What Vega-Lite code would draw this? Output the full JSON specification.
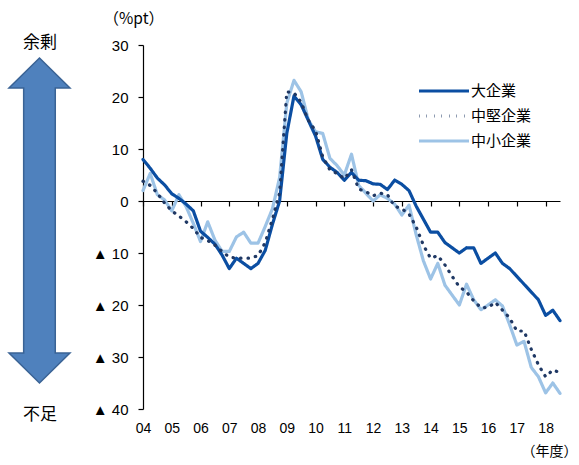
{
  "$schema": "https://vega.github.io/schema/vega-lite/v6.json",
  "width": 417,
  "height": 364,
  "autosize": {"type": "none"},
  "padding": {"left": 143, "top": 45, "right": 19, "bottom": 56},
  "background": "white",
  "config": {
    "view": {"stroke": null},
    "font": "Liberation Sans",
    "axis": {"grid": false, "domainColor": "black", "tickColor": "black", "labelColor": "black", "titleColor": "black"}
  },
  "datasets": {
    "di": [
      {"period": 2004.00, "大企業": 8.0, "中堅企業": 3.8, "中小企業": 2.0},
      {"period": 2004.25, "大企業": 6.3, "中堅企業": 3.0, "中小企業": 5.3},
      {"period": 2004.50, "大企業": 4.4, "中堅企業": 1.5, "中小企業": 1.2},
      {"period": 2004.75, "大企業": 3.1, "中堅企業": -0.4, "中小企業": 0.2},
      {"period": 2005.00, "大企業": 1.4, "中堅企業": -1.9, "中小企業": -1.9},
      {"period": 2005.25, "大企業": 0.5, "中堅企業": -2.9, "中小企業": 1.2},
      {"period": 2005.50, "大企業": -0.6, "中堅企業": -4.0, "中小企業": -1.1},
      {"period": 2005.75, "大企業": -1.9, "中堅企業": -5.3, "中小企業": -4.3},
      {"period": 2006.00, "大企業": -5.8, "中堅企業": -7.0, "中小企業": -7.8},
      {"period": 2006.25, "大企業": -7.0, "中堅企業": -7.6, "中小企業": -4.0},
      {"period": 2006.50, "大企業": -8.3, "中堅企業": -8.5, "中小企業": -7.5},
      {"period": 2006.75, "大企業": -10.4, "中堅企業": -9.7, "中小企業": -9.7},
      {"period": 2007.00, "大企業": -13.0, "中堅企業": -10.8, "中小企業": -9.7},
      {"period": 2007.25, "大企業": -11.0, "中堅企業": -11.0, "中小企業": -6.9},
      {"period": 2007.50, "大企業": -12.0, "中堅企業": -11.0, "中小企業": -6.0},
      {"period": 2007.75, "大企業": -13.0, "中堅企業": -11.0, "中小企業": -8.1},
      {"period": 2008.00, "大企業": -12.0, "中堅企業": -10.5, "中小企業": -8.1},
      {"period": 2008.25, "大企業": -9.5, "中堅企業": -8.0, "中小企業": -4.9},
      {"period": 2008.50, "大企業": -4.5, "中堅企業": -3.5, "中小企業": -1.5},
      {"period": 2008.75, "大企業": 0.0, "中堅企業": 1.5, "中小企業": 4.5},
      {"period": 2009.00, "大企業": 13.0, "中堅企業": 21.0, "中小企業": 18.8},
      {"period": 2009.25, "大企業": 20.2, "中堅企業": 20.8, "中小企業": 23.2},
      {"period": 2009.50, "大企業": 18.5, "中堅企業": 19.0, "中小企業": 21.0},
      {"period": 2009.75, "大企業": 15.5, "中堅企業": 15.5, "中小企業": 15.6},
      {"period": 2010.00, "大企業": 12.5, "中堅企業": 13.5, "中小企業": 13.3},
      {"period": 2010.25, "大企業": 8.0, "中堅企業": 8.5, "中小企業": 13.0},
      {"period": 2010.50, "大企業": 6.5, "中堅企業": 6.0, "中小企業": 8.2},
      {"period": 2010.75, "大企業": 5.5, "中堅企業": 5.3, "中小企業": 6.8},
      {"period": 2011.00, "大企業": 4.0, "中堅企業": 4.3, "中小企業": 5.0},
      {"period": 2011.25, "大企業": 5.5, "中堅企業": 6.0, "中小企業": 9.0},
      {"period": 2011.50, "大企業": 4.0, "中堅企業": 2.3, "中小企業": 3.0},
      {"period": 2011.75, "大企業": 3.9, "中堅企業": 1.8, "中小企業": 1.5},
      {"period": 2012.00, "大企業": 3.3, "中堅企業": 1.0, "中小企業": 0.0},
      {"period": 2012.25, "大企業": 3.2, "中堅企業": 1.5, "中小企業": 1.2},
      {"period": 2012.50, "大企業": 2.2, "中堅企業": 1.2, "中小企業": 0.5},
      {"period": 2012.75, "大企業": 4.0, "中堅企業": -1.0, "中小企業": -0.6},
      {"period": 2013.00, "大企業": 3.2, "中堅企業": -1.5, "中小企業": -2.7},
      {"period": 2013.25, "大企業": 2.0, "中堅企業": -2.5, "中小企業": -0.8},
      {"period": 2013.50, "大企業": -1.0, "中堅企業": -5.0, "中小企業": -6.5},
      {"period": 2013.75, "大企業": -3.5, "中堅企業": -8.5, "中小企業": -11.5},
      {"period": 2014.00, "大企業": -6.0, "中堅企業": -11.0, "中小企業": -15.0},
      {"period": 2014.25, "大企業": -6.0, "中堅企業": -10.5, "中小企業": -12.0},
      {"period": 2014.50, "大企業": -8.0, "中堅企業": -12.3, "中小企業": -16.2},
      {"period": 2014.75, "大企業": -9.0, "中堅企業": -14.5, "中小企業": -18.1},
      {"period": 2015.00, "大企業": -10.0, "中堅企業": -16.5, "中小企業": -20.0},
      {"period": 2015.25, "大企業": -9.0, "中堅企業": -17.5, "中小企業": -16.0},
      {"period": 2015.50, "大企業": -9.0, "中堅企業": -19.2, "中小企業": -19.0},
      {"period": 2015.75, "大企業": -12.0, "中堅企業": -20.5, "中小企業": -20.9},
      {"period": 2016.00, "大企業": -11.0, "中堅企業": -20.5, "中小企業": -20.0},
      {"period": 2016.25, "大企業": -10.0, "中堅企業": -19.5, "中小企業": -19.0},
      {"period": 2016.50, "大企業": -12.0, "中堅企業": -21.0, "中小企業": -20.2},
      {"period": 2016.75, "大企業": -13.0, "中堅企業": -22.5, "中小企業": -23.8},
      {"period": 2017.00, "大企業": -14.5, "中堅企業": -25.0, "中小企業": -27.7},
      {"period": 2017.25, "大企業": -16.0, "中堅企業": -25.0, "中小企業": -27.0},
      {"period": 2017.50, "大企業": -17.5, "中堅企業": -28.5, "中小企業": -32.0},
      {"period": 2017.75, "大企業": -19.0, "中堅企業": -31.5, "中小企業": -33.8},
      {"period": 2018.00, "大企業": -22.0, "中堅企業": -33.8, "中小企業": -36.9},
      {"period": 2018.25, "大企業": -21.0, "中堅企業": -32.5, "中小企業": -35.0},
      {"period": 2018.50, "大企業": -23.0, "中堅企業": -33.0, "中小企業": -37.0}
    ]
  },
  "resolve": {"axis": {"x": "independent", "y": "independent"}},
  "layer": [
    {
      "data": {"name": "di"},
      "transform": [{"fold": ["中小企業", "大企業", "中堅企業"], "as": ["size", "di"]}],
      "mark": {"type": "line", "strokeCap": "round", "strokeJoin": "round"},
      "encoding": {
        "x": {
          "field": "period",
          "type": "quantitative",
          "scale": {"domain": [2004, 2018.5], "nice": false, "zero": false},
          "axis": {
            "orient": "bottom",
            "offset": -208,
            "values": [2004, 2005, 2006, 2007, 2008, 2009, 2010, 2011, 2012, 2013, 2014, 2015, 2016, 2017, 2018],
            "labelExpr": "slice(toString(datum.value), 2)",
            "tickSize": 5,
            "tickWidth": 1.2,
            "domainWidth": 1.2,
            "labelPadding": 215,
            "labelFontSize": 14,
            "labelFont": "Liberation Sans",
            "labelFlush": false,
            "labelOverlap": false,
            "title": "（年度）",
            "titleFont": "Noto Sans CJK JP",
            "titleFontSize": 14,
            "titleFontWeight": "normal",
            "titleAlign": "right",
            "titleBaseline": "middle",
            "titleAnchor": "end",
            "titleLimit": 200,
            "titleX": 434,
            "titleY": 250
          }
        },
        "y": {
          "field": "di",
          "type": "quantitative",
          "scale": {"domain": [-40, 30], "nice": false},
          "axis": {
            "values": [-40, -30, -20, -10, 0, 10, 20, 30],
            "labelExpr": "datum.value < 0 ? '▲ ' + abs(datum.value) : '' + datum.value",
            "tickSize": 5,
            "tickWidth": 1.2,
            "domainWidth": 1.2,
            "labelPadding": 10,
            "labelFontSize": 15,
            "labelFont": "Liberation Sans",
            "title": null
          }
        },
        "color": {
          "field": "size",
          "type": "nominal",
          "scale": {"domain": ["大企業", "中堅企業", "中小企業"], "range": ["#0B4EA2", "#1F3864", "#9DC3E6"]},
          "legend": {
            "orient": "none",
            "legendX": 289,
            "legendY": 34,
            "title": null,
            "padding": 0,
            "symbolType": "M-2.5,0H2.5",
            "symbolSize": 400,
            "labelFont": "Noto Sans CJK JP",
            "labelFontSize": 15,
            "labelColor": "black",
            "labelOffset": 15,
            "rowPadding": 5
          }
        },
        "strokeDash": {
          "field": "size",
          "type": "nominal",
          "scale": {"domain": ["大企業", "中堅企業", "中小企業"], "range": [[1, 0], [0.5, 7], [1, 0]]}
        },
        "strokeWidth": {
          "field": "size",
          "type": "nominal",
          "scale": {"domain": ["大企業", "中堅企業", "中小企業"], "range": [3.2, 3.2, 3.6]}
        }
      }
    },
    {
      "data": {"values": [{}]},
      "mark": {
        "type": "point",
        "shape": "M0,-1L0.1877,-0.815L0.0972,-0.815L0.0972,0.815L0.1877,0.815L0,1L-0.1877,0.815L-0.0972,0.815L-0.0972,-0.815L-0.1877,-0.815Z",
        "size": 105625,
        "filled": true,
        "fill": "#4F81BD",
        "stroke": "#3A6395",
        "strokeWidth": 1.5,
        "opacity": 1
      },
      "encoding": {
        "x": {"datum": 2000.4, "type": "quantitative", "axis": null},
        "y": {"datum": -3.75, "type": "quantitative", "axis": null}
      }
    },
    {
      "data": {"values": [{}]},
      "mark": {"type": "text", "text": "（%pt）", "font": "Noto Sans CJK JP", "fontSize": 15.5, "color": "black", "align": "center", "baseline": "middle"},
      "encoding": {
        "x": {"datum": 2003.68, "type": "quantitative", "axis": null},
        "y": {"datum": 35.0, "type": "quantitative", "axis": null}
      }
    },
    {
      "data": {"values": [{}]},
      "mark": {"type": "text", "text": "余剰", "font": "Noto Sans CJK JP", "fontSize": 17, "color": "black", "align": "center", "baseline": "middle"},
      "encoding": {
        "x": {"datum": 2000.42, "type": "quantitative", "axis": null},
        "y": {"datum": 30.4, "type": "quantitative", "axis": null}
      }
    },
    {
      "data": {"values": [{}]},
      "mark": {"type": "text", "text": "不足", "font": "Noto Sans CJK JP", "fontSize": 17, "color": "black", "align": "center", "baseline": "middle"},
      "encoding": {
        "x": {"datum": 2000.42, "type": "quantitative", "axis": null},
        "y": {"datum": -41.2, "type": "quantitative", "axis": null}
      }
    }
  ]
}
